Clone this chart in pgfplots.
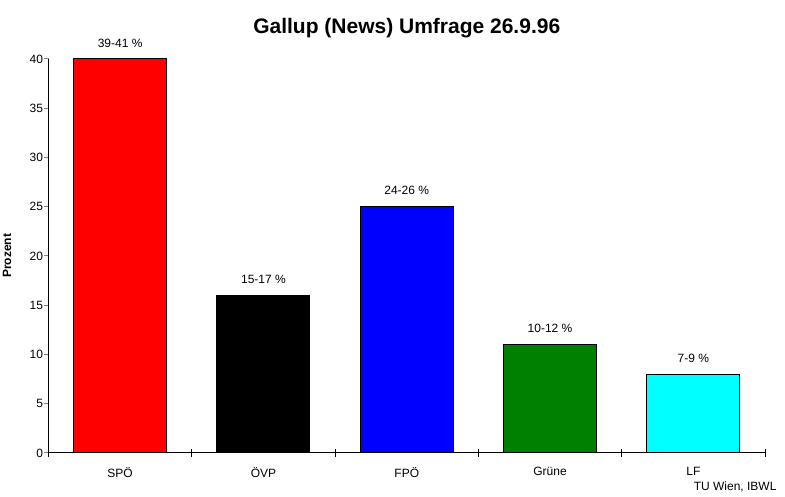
\documentclass[border=0pt]{standalone}
\usepackage{fontspec}
\setmainfont{Liberation Sans}
\usepackage{pgfplots}
\pgfplotsset{compat=1.18}

\definecolor{barred}{RGB}{255,0,0}
\definecolor{barblue}{RGB}{0,0,255}
\definecolor{bargreen}{RGB}{0,128,0}
\definecolor{barcyan}{RGB}{0,255,255}

\begin{document}
\begin{tikzpicture}[x=1pt,y=1pt]
\path[use as bounding box] (0,0) rectangle (785,497);
\begin{axis}[
    at={(48.5pt,44pt)}, anchor=south west,
    scale only axis,
    width=716.5pt, height=394pt,
    xmin=-0.5, xmax=4.5, ymin=0, ymax=40,
    axis x line*=bottom, axis y line*=left,
    axis line style={line width=1pt},
    ybar, bar width=93pt, bar shift=0pt,
    xtick={0,1,2,3,4},
    xticklabels={SPÖ,ÖVP,FPÖ,Grüne,LF},
    minor xtick={-0.5,0.5,1.5,2.5,3.5,4.5},
    ytick={0,5,...,40},
    tick align=center,
    major tick length=4pt, minor tick length=8pt,
    x tick style={draw=none},
    minor x tick style={draw=black, line width=1pt},
    y tick style={line width=1pt, xshift=-2pt},
    tick label style={font=\fontsize{12}{14}\selectfont},
    xticklabel style={yshift=-9pt},
    /pgf/number format/assume math mode=true,
    ylabel={\textbf{Prozent}},
    ylabel style={font=\fontsize{12}{14}\selectfont, at={(axis description cs:-0.058,0.5)}, anchor=center},
    title={\textbf{Gallup (News) Umfrage 26.9.96}},
    title style={font=\fontsize{21}{24}\selectfont, at={(axis description cs:0.5,1)}, anchor=center, yshift=25pt},
    point meta=explicit symbolic,
    nodes near coords,
    nodes near coords style={font=\fontsize{12}{14}\selectfont, anchor=south, yshift=8pt, text=black},
    clip=false,
]
\addplot[fill=barred, draw=black, line width=1pt] coordinates {(0,40) [39-41 \%]};
\addplot[fill=black, draw=black, line width=1pt] coordinates {(1,16) [15-17 \%]};
\addplot[fill=barblue, draw=black, line width=1pt] coordinates {(2,25) [24-26 \%]};
\addplot[fill=bargreen, draw=black, line width=1pt] coordinates {(3,11) [10-12 \%]};
\addplot[fill=barcyan, draw=black, line width=1pt] coordinates {(4,8) [7-9 \%]};
\end{axis}
\node[anchor=base east, font=\fontsize{12}{14}\selectfont] at (780,6) {TU Wien, IBWL};
\end{tikzpicture}
\end{document}
